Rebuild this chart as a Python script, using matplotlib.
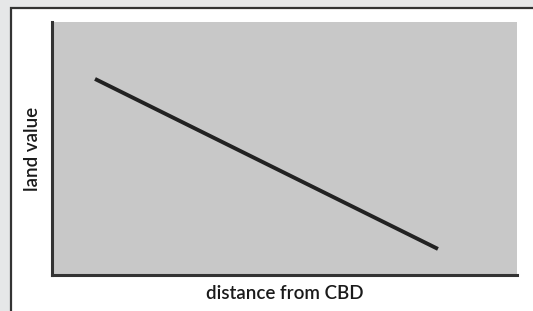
import matplotlib
matplotlib.use("Agg")
import matplotlib.pyplot as plt
from matplotlib.patches import Rectangle

# Data (normalized axis units)
distance = [0.0925, 0.830]
land_value = [0.775, 0.103]
x_label = "distance from CBD"
y_label = "land value"

W, H = 533, 311
fig = plt.figure(figsize=(W / 100, H / 100), dpi=100)
fig.patch.set_facecolor("#e6e7e8")
plt.rcParams["font.family"] = ["Lato", "DejaVu Sans"]

# white panel with dark border
fig.patches.append(Rectangle((10.5 / W, -0.1), 1.2, 1.1 - 7.5 / H,
                             transform=fig.transFigure, facecolor="white",
                             edgecolor="#333333", linewidth=1.6, zorder=-5))

ax = fig.add_axes([52 / W, 1 - 275 / H, (517 - 52) / W, (275 - 22) / H])
ax.set_zorder(2)
ax.set_facecolor("#c8c8c8")
ax.plot(distance, land_value, color="#222222", linewidth=2.8, solid_capstyle="butt")
ax.set_xlim(0, 1)
ax.set_ylim(0, 1)
ax.set_xticks([])
ax.set_yticks([])
for s in ["top", "right"]:
    ax.spines[s].set_visible(False)
for s in ["left", "bottom"]:
    ax.spines[s].set_color("#333333")
    ax.spines[s].set_linewidth(2.2)
ax.set_xlabel(x_label, fontsize=13.5, color="#1a1a1a", labelpad=7, fontweight="semibold")
ax.set_ylabel(y_label, fontsize=13.5, color="#1a1a1a", labelpad=8, fontweight="semibold")

fig.savefig("out.png", dpi=100, facecolor=fig.get_facecolor())
